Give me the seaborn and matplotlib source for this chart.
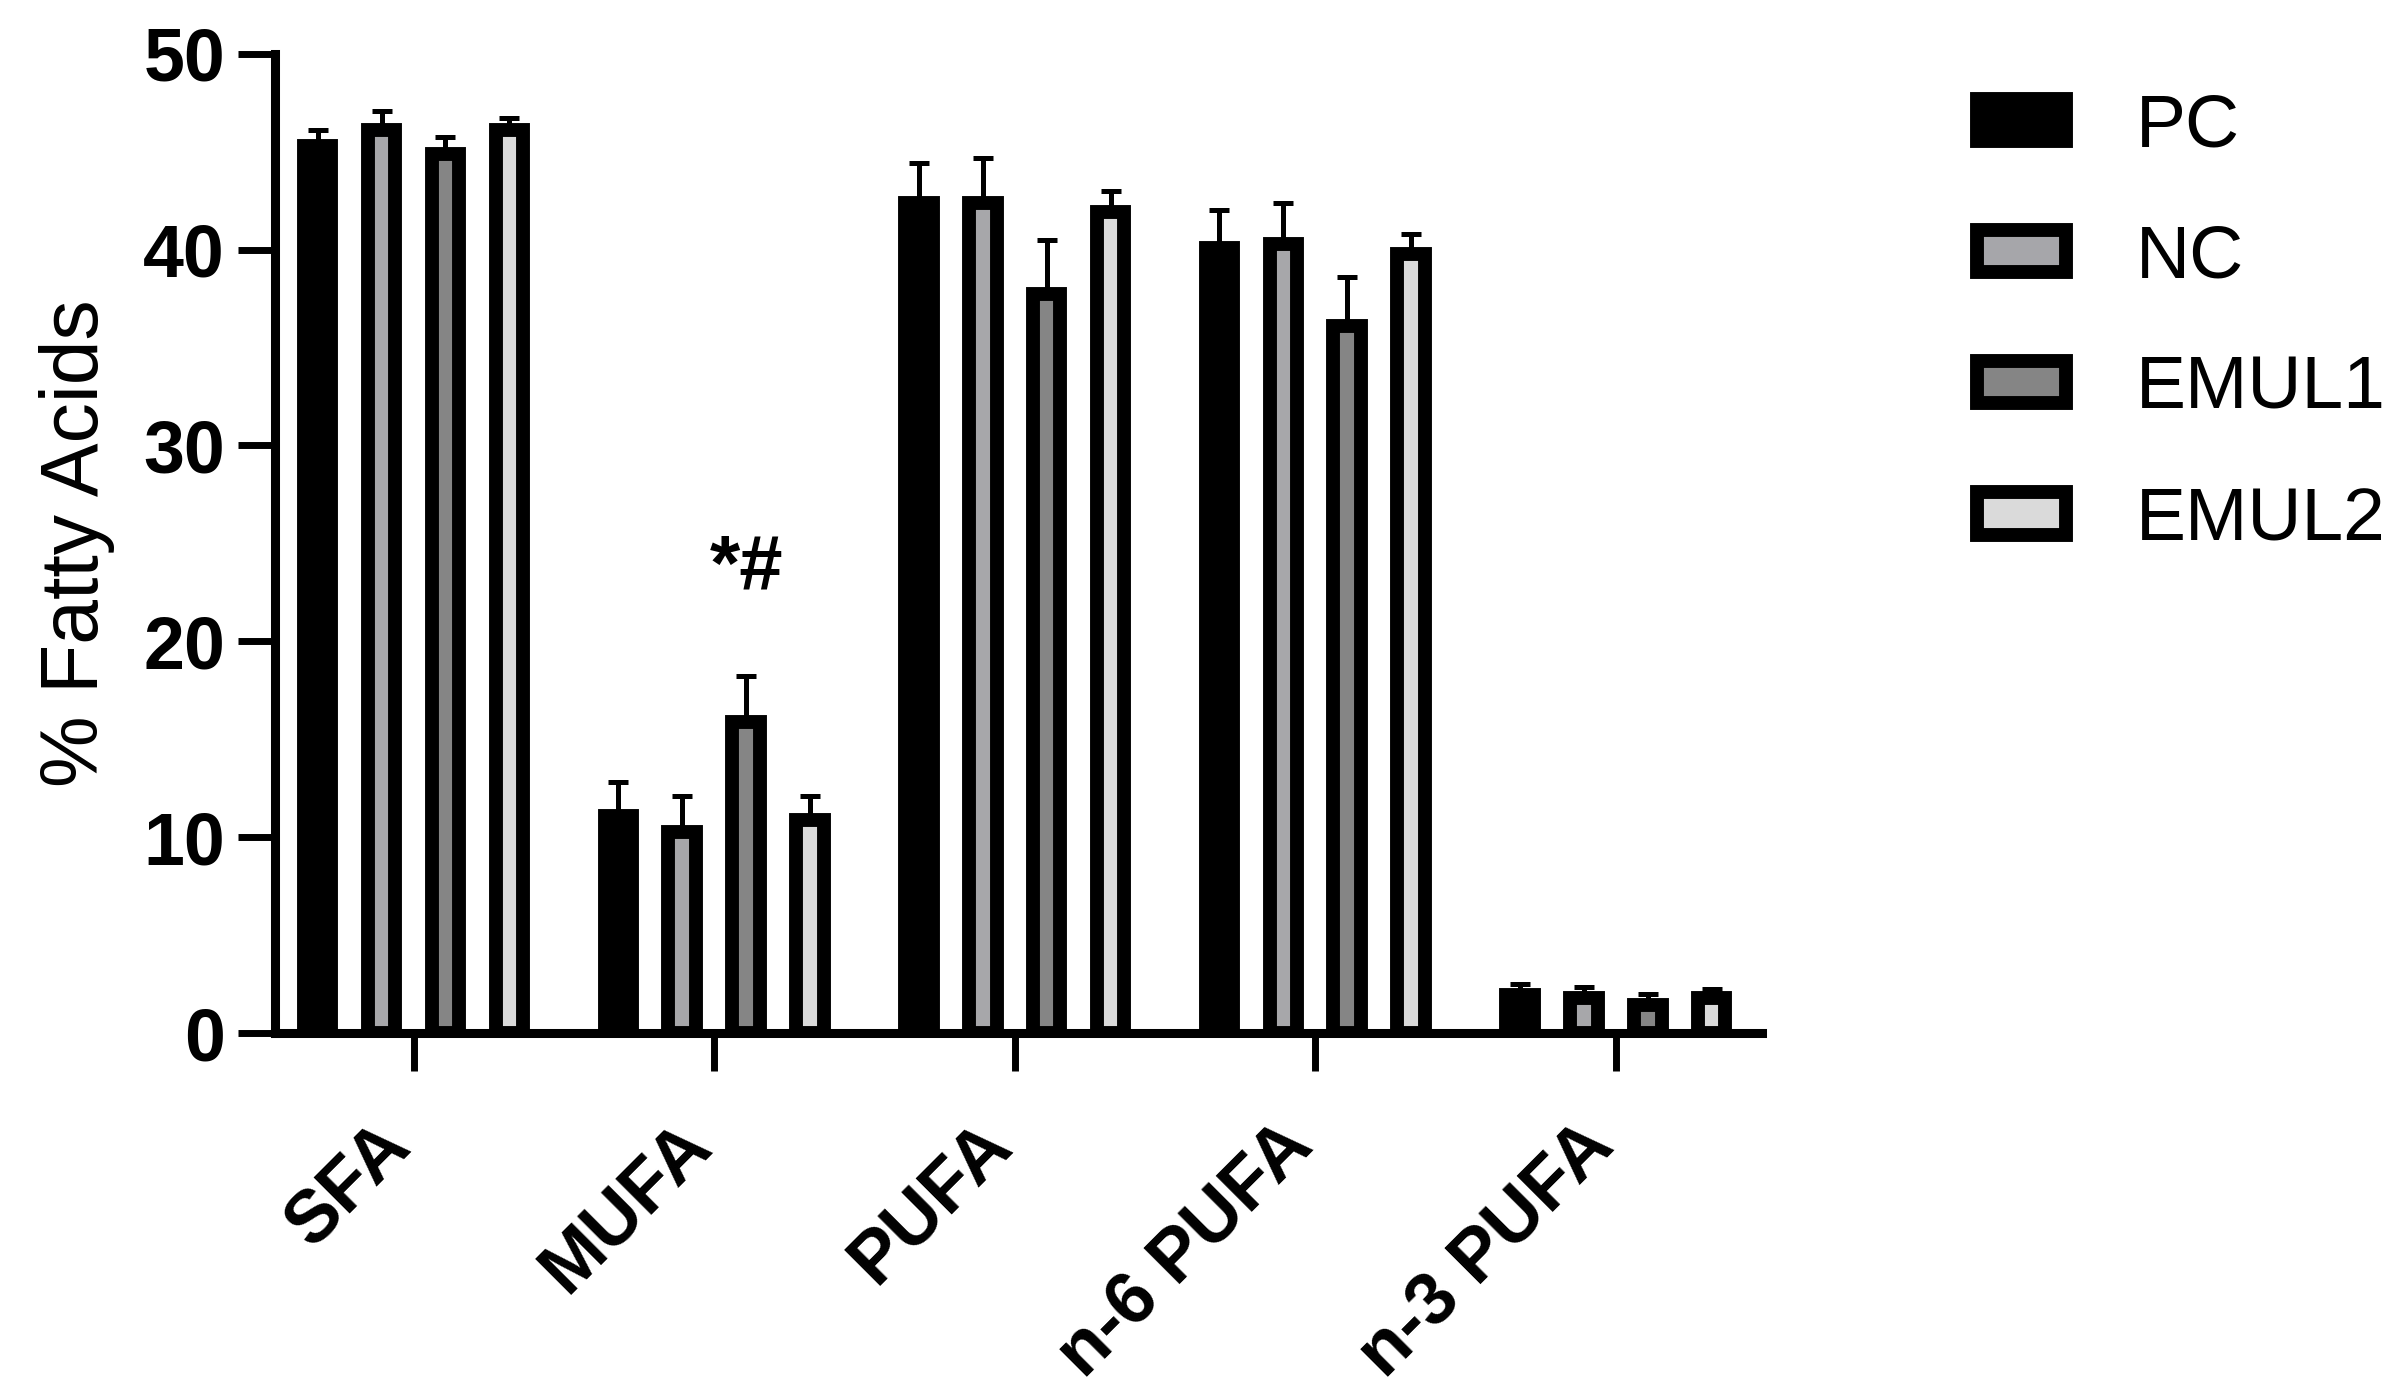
import matplotlib
matplotlib.use('Agg')
import matplotlib.pyplot as plt
from matplotlib.patches import Patch
import numpy as np
import pandas as pd
import seaborn as sns

categories = ['SFA', 'MUFA', 'PUFA', 'n-6 PUFA', 'n-3 PUFA']
groups = ['PC', 'NC', 'EMUL1', 'EMUL2']

# mean % of fatty acids per group
pc_mean = [45.3, 11.1, 42.4, 40.1, 1.95]
nc_mean = [46.1, 10.25, 42.4, 40.3, 1.8]
emul1_mean = [44.9, 15.9, 37.75, 36.1, 1.45]
emul2_mean = [46.1, 10.9, 41.9, 39.8, 1.8]

# upper error (SEM) per group
pc_err = [0.8, 1.7, 2.0, 1.9, 0.55]
nc_err = [1.0, 1.85, 2.3, 2.1, 0.55]
emul1_err = [0.85, 2.35, 2.75, 2.5, 0.55]
emul2_err = [0.6, 1.2, 1.1, 1.0, 0.45]

colors = {'PC': '#000000', 'NC': '#a6a6aa', 'EMUL1': '#858585', 'EMUL2': '#dadada'}

means = [pc_mean, nc_mean, emul1_mean, emul2_mean]
errs = [pc_err, nc_err, emul1_err, emul2_err]

df = pd.DataFrame({
    'category': categories * len(groups),
    'group': np.repeat(groups, len(categories)),
    'value': np.concatenate(means),
})

sns.set_style('ticks')
plt.rcParams['font.family'] = ['Liberation Sans', 'DejaVu Sans']
plt.rcParams.update({
    'text.color': 'black', 'axes.labelcolor': 'black', 'axes.edgecolor': 'black',
    'xtick.color': 'black', 'ytick.color': 'black',
})

fig = plt.figure(figsize=(24.08, 14), dpi=100)
ax = fig.add_axes([0.1142, 0.2621, 0.6175, 0.6995])

edge_lw = 10
sns.barplot(
    data=df, x='category', y='value', hue='group',
    order=categories, hue_order=groups, palette=colors,
    width=0.85, gap=0.57, edgecolor='black', linewidth=edge_lw,
    errorbar=None, legend=False, ax=ax,
)

# one-sided error bars on top of each bar
for container, err in zip(ax.containers, errs):
    xs = [p.get_x() + p.get_width() / 2 for p in container]
    ys = [p.get_height() for p in container]
    ax.errorbar(xs, ys, yerr=[np.zeros(len(err)), err], fmt='none',
                ecolor='black', elinewidth=3.6, capsize=7.2, capthick=3.6,
                zorder=0.5)

# significance mark over EMUL1 / MUFA
bar = ax.containers[2][1]
ax.text(bar.get_x() + bar.get_width() / 2, 23.7, '*#', ha='center', va='center',
        fontsize=56, fontweight='bold')

ax.set_ylim(0, 50)
ax.set_xlim(-0.461, 4.486)
ax.set_yticks([0, 10, 20, 30, 40, 50])
ax.set_xlabel('')
ax.set_ylabel('% Fatty Acids', fontsize=58, labelpad=20)

sns.despine(ax=ax)
for s in ['left', 'bottom']:
    ax.spines[s].set_linewidth(6.5)
ax.tick_params(axis='both', width=5, length=27, color='black')
ax.tick_params(axis='y', labelsize=53, pad=9)
ax.tick_params(axis='x', labelsize=53, pad=56)
for lab in ax.get_yticklabels():
    lab.set_fontweight('bold')
for lab in ax.get_xticklabels():
    lab.set_fontweight('bold')
    lab.set_rotation(45)
    lab.set_ha('right')
    lab.set_va('baseline')
    lab.set_rotation_mode('anchor')

handles = [Patch(facecolor=colors[g], edgecolor='black', linewidth=edge_lw) for g in groups]
fig.legend(handles, groups, loc='upper left', bbox_to_anchor=(0.821, 0.934),
           frameon=False, fontsize=54, handlelength=1.19, handleheight=0.49,
           handletextpad=0.93, labelspacing=0.83, borderpad=0, borderaxespad=0)

fig.savefig('out.png', dpi=100)
